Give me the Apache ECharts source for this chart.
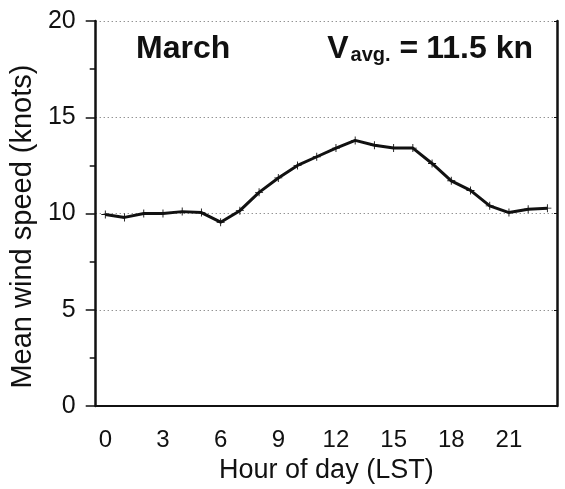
<!DOCTYPE html>
<html><head><meta charset="utf-8">
<script src="https://cdn.jsdelivr.net/npm/echarts@6/dist/echarts.min.js"></script>
<style>html,body{margin:0;padding:0;background:#fff}#c{width:565px;height:489px}</style>
</head><body><div id="c"></div>
<script>
const hours = ['0','1','2','3','4','5','6','7','8','9','10','11','12','13','14','15','16','17','18','19','20','21','22','23'];
const windSpeed = [9.95,9.8,10.0,10.0,10.1,10.05,9.55,10.15,11.1,11.85,12.5,12.95,13.4,13.8,13.55,13.4,13.4,12.6,11.7,11.2,10.4,10.05,10.22,10.28];
const yTicks = [0,5,10,15,20];
const monthLabel = 'March';
const avgLabel = '11.5 kn';

const FONT = '"Liberation Sans", Arial, Helvetica, sans-serif';
const chart = echarts.init(document.getElementById('c'));
chart.setOption({
  animation:false,
  backgroundColor:'#fff',
  grid:{left:93,right:8,top:21,bottom:82},
  xAxis:[{
    type:'category', data:hours, boundaryGap:true,
    name:'Hour of day (LST)', nameLocation:'middle', nameGap:50,
    nameTextStyle:{fontFamily:FONT,fontSize:27,color:'#111'},
    axisLine:{lineStyle:{color:'#111',width:2}},
    axisTick:{alignWithLabel:true,interval:0,length:4,lineStyle:{color:'#111',width:1.5}},
    axisLabel:{interval:2,fontFamily:FONT,fontSize:24,color:'#111',margin:22},
    splitLine:{show:false}
  },{
    type:'category', data:hours, boundaryGap:true, position:'bottom',
    axisLine:{show:false},
    axisTick:{alignWithLabel:true,interval:2,length:8,lineStyle:{color:'#111',width:1.5}},
    axisLabel:{show:false}, splitLine:{show:false}
  }],
  yAxis:[{
    type:'value', min:yTicks[0], max:yTicks[yTicks.length-1], interval:5,
    name:'Mean wind speed (knots)', nameLocation:'middle', nameGap:54, nameRotate:90,
    nameTextStyle:{fontFamily:FONT,fontSize:29,color:'#111',padding:[0,26,0,0]},
    axisLine:{show:true,lineStyle:{color:'#111',width:2.5}},
    axisTick:{show:true,length:10,lineStyle:{color:'#111',width:1.5}},
    minorTick:{show:true,splitNumber:2,length:6,lineStyle:{color:'#111',width:1.5}},
    axisLabel:{fontFamily:FONT,fontSize:25,color:'#111',margin:20},
    splitLine:{show:true,lineStyle:{color:'#666',type:[1,3],width:1}}
  },{
    type:'value', min:yTicks[0], max:yTicks[yTicks.length-1], interval:5, position:'right',
    axisLine:{show:true,lineStyle:{color:'#111',width:2.5}},
    axisTick:{show:true,inside:true,length:3,lineStyle:{color:'#111',width:1}},
    axisLabel:{show:false}, splitLine:{show:false}
  }],
  series:[{
    type:'line', data:windSpeed, xAxisIndex:0, yAxisIndex:0,
    lineStyle:{color:'#111',width:3},
    symbol:'path://M4,0h1v9h-1z M0,4h9v1h-9z', symbolSize:8,
    itemStyle:{color:'#111'}
  }],
  graphic:[{
    type:'text', left:136, top:33,
    style:{text:monthLabel, font:'bold 32px '+FONT, fill:'#111'}
  },{
    type:'text', right:32, top:33,
    style:{
      text:'{v|V}{s|avg.}{e|=}{r|'+avgLabel+'}',
      rich:{
        v:{font:'bold 32px '+FONT, fill:'#111', verticalAlign:'bottom'},
        s:{font:'bold 20px '+FONT, fill:'#111', padding:[16,0,0,2], verticalAlign:'bottom'},
        e:{font:'bold 32px '+FONT, fill:'#111', verticalAlign:'bottom', padding:[0,8,0,9]},
        r:{font:'bold 32px '+FONT, fill:'#111', verticalAlign:'bottom'}
      }
    }
  }]
});
</script></body></html>
